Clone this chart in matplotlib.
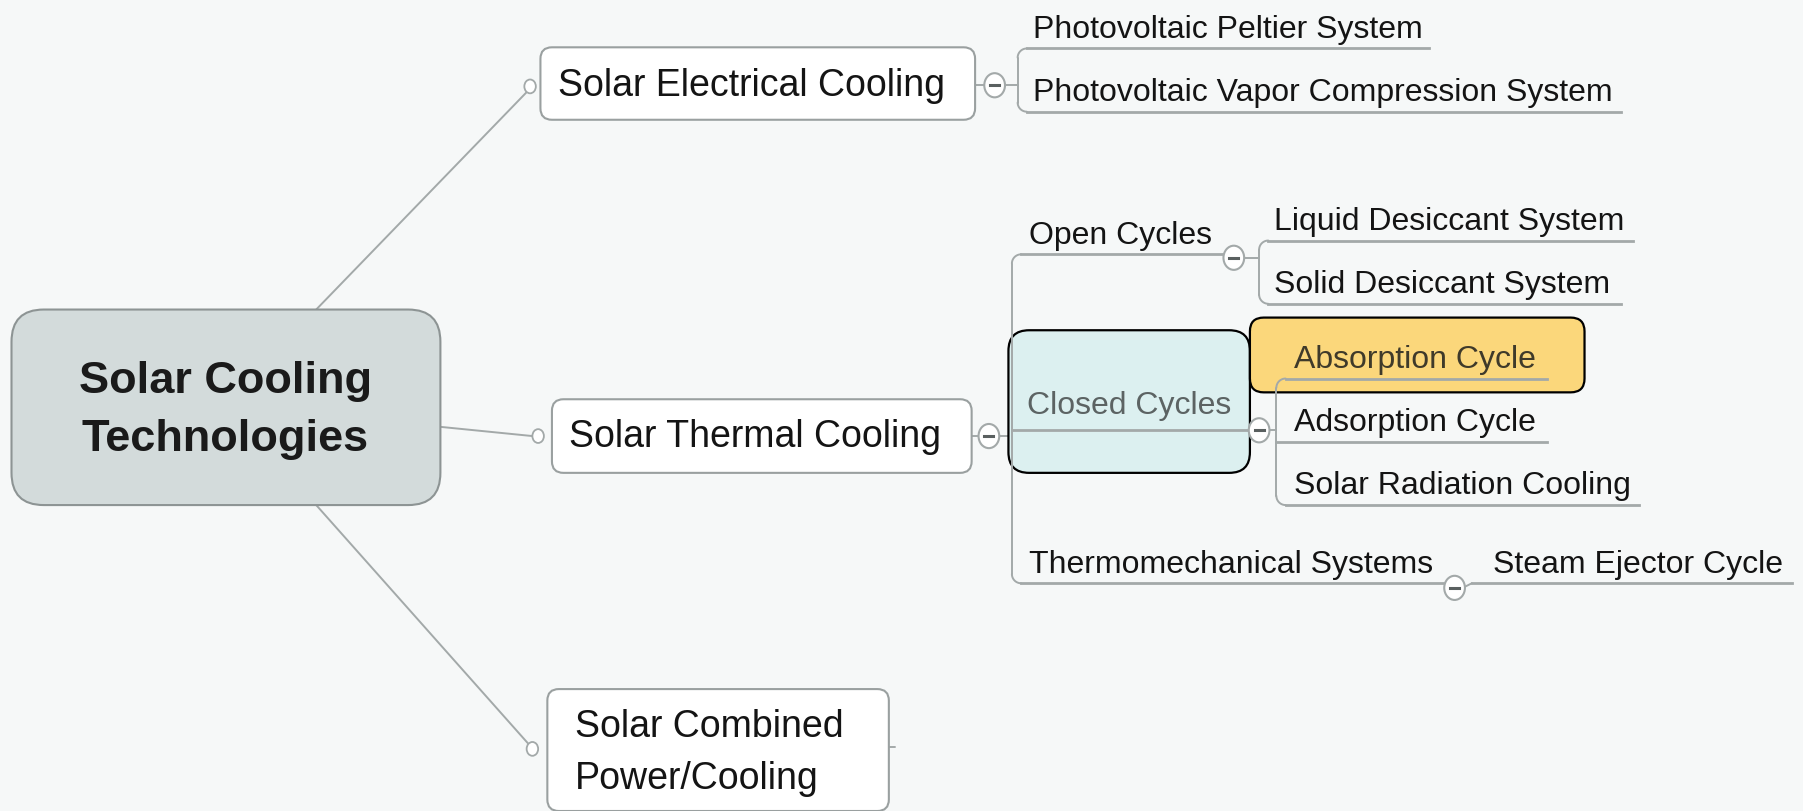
import matplotlib
matplotlib.use("Agg")
import numpy as np
import matplotlib.pyplot as plt
from matplotlib.patches import FancyBboxPatch, Ellipse

plt.rcParams['font.family'] = ['Liberation Sans', 'DejaVu Sans']

# texto da arvore
root_label = "Solar Cooling\nTechnologies"
branch_labels = ["Solar Electrical Cooling", "Solar Thermal Cooling", "Solar Combined\nPower/Cooling"]
electrical_leaves = ["Photovoltaic Peltier System", "Photovoltaic Vapor Compression System"]
thermal_groups = ["Open Cycles", "Closed Cycles", "Thermomechanical Systems"]
open_leaves = ["Liquid Desiccant System", "Solid Desiccant System"]
closed_leaves = ["Absorption Cycle", "Adsorption Cycle", "Solar Radiation Cooling"]
thermo_leaves = ["Steam Ejector Cycle"]

# cores
LINE = '#a3a9a9'
BOX_EDGE = '#9aa0a0'
TXT = '#141414'

W, H = 1568, 706
fig = plt.figure(figsize=(18.03, 8.12), dpi=100)
ax = fig.add_axes([0, 0, 1, 1])
ax.set_xlim(0, W)
ax.set_ylim(H, 0)
ax.axis('off')
fig.patch.set_facecolor('#f6f8f8')


def caixa(x0, y0, x1, y1, fc, ec, lw=1.5, r=14, z=2):
    p = FancyBboxPatch((x0, y0), x1 - x0, y1 - y0,
                       boxstyle="round,pad=0,rounding_size=%d" % r,
                       fc=fc, ec=ec, lw=lw, zorder=z)
    ax.add_patch(p)


def bolinha(x, y):
    ax.add_patch(Ellipse((x, y), 10, 12, fc='white', ec=LINE, lw=1.3, zorder=4))


def menos(x, y):
    ax.add_patch(Ellipse((x, y), 18, 21, fc='white', ec=LINE, lw=1.5, zorder=4))
    ax.plot([x - 4, x + 4], [y, y], color='#5a6060', lw=2.2, zorder=5)


def linha(xs, ys, lw=1.4, c=LINE, z=1):
    ax.plot(xs, ys, color=c, lw=lw, zorder=z, solid_capstyle='round')


def canto(bx, y, r, de_baixo, z=1):
    t = np.linspace(0, np.pi / 2, 12)
    xs = bx + r - r * np.cos(t)
    if de_baixo:
        ys = y + r - r * np.sin(t)
    else:
        ys = y - r + r * np.sin(t)
    linha(xs, ys, z=z)


def colchete(bx, ys, r=8, z=1):
    linha([bx, bx], [min(ys) + r, max(ys) - r], z=z)
    canto(bx, min(ys), r, True, z)
    canto(bx, max(ys), r, False, z)


def folhas(labels, bx, ys, xends, tx, cx, cy, fs=23, z=1, cores=None):
    linha([cx, bx], [cy, cy], z=z)
    colchete(bx, ys, z=z)
    for i, (lab, y, xe) in enumerate(zip(labels, ys, xends)):
        x0 = bx + 8 if y in (min(ys), max(ys)) else bx
        ax.plot([x0, xe], [y, y], color=LINE, lw=2, zorder=z)
        cor = cores[i] if cores else TXT
        ax.text(tx, y - 4, lab, fontsize=fs, color=cor, ha='left', va='bottom', zorder=6)


# raiz
caixa(10, 270, 383, 440, '#d3dbdb', '#8d9494', lw=1.5, r=28)
ax.text(196, 357, root_label, fontsize=32.5, fontweight='bold', color='#1a1a1a',
        ha='center', va='center', linespacing=1.55, zorder=6)

# ligacoes da raiz
linha([275, 458], [270, 81])
linha([383, 463], [372, 380])
linha([275, 459], [440, 647])

# ramos
caixa(470, 42, 848, 105, 'white', BOX_EDGE, r=10)
ax.text(485, 75, branch_labels[0], fontsize=27, color=TXT, ha='left', va='center', zorder=6)
bolinha(461, 76)
linha([848, 856], [75, 75])

caixa(480, 348, 845, 412, 'white', BOX_EDGE, r=10)
ax.text(495, 380, branch_labels[1], fontsize=27, color=TXT, ha='left', va='center', zorder=6)
bolinha(468, 380)
linha([845, 851], [380, 380])

caixa(476, 600, 773, 706, 'white', BOX_EDGE, r=10)
ax.text(500, 655, branch_labels[2], fontsize=27, color=TXT, ha='left', va='center',
        linespacing=1.58, zorder=6)
bolinha(463, 652)
linha([773, 778], [650, 650])

# folhas do ramo eletrico
menos(865, 75)
folhas(electrical_leaves, 885, [43, 98], [1243, 1410], 898, 874, 75)

# grupos termicos
menos(860, 380)
grp_y = [222, 375, 508]
grp_end = [1063, 1085, 1255]
linha([869, 880], [380, 380])
colchete(880, [grp_y[0], grp_y[2]], z=3)
for y, xe in zip(grp_y, grp_end):
    x0 = 880 if y == grp_y[1] else 888
    ax.plot([x0, xe], [y, y], color=LINE, lw=2, zorder=3)

# destaques
caixa(877, 288, 1087, 412, '#dcf0f0', 'black', lw=1.6, r=18, z=2)
caixa(1087, 277, 1378, 342, '#fbd77b', 'black', lw=1.6, r=12, z=2)

ax.text(895, 218, thermal_groups[0], fontsize=23, color=TXT, ha='left', va='bottom', zorder=6)
ax.text(893, 353, thermal_groups[1], fontsize=23, color='#5c6363', ha='left', va='center', zorder=6)
ax.text(895, 504, thermal_groups[2], fontsize=23, color=TXT, ha='left', va='bottom', zorder=6)

menos(1073, 225)
folhas(open_leaves, 1095, [210, 265], [1420, 1410], 1108, 1082, 225)

menos(1095, 375)
folhas(closed_leaves, 1110, [330, 385, 440], [1345, 1345, 1425], 1125, 1104, 375,
       z=3, cores=['#3f3a2a', TXT, TXT])

menos(1265, 512)
linha([1274, 1280], [511, 508])
ax.plot([1280, 1558], [508, 508], color=LINE, lw=2, zorder=1)
ax.text(1298, 504, thermo_leaves[0], fontsize=23, color=TXT, ha='left', va='bottom', zorder=6)

fig.savefig('out.png', dpi=100, facecolor=fig.get_facecolor())
